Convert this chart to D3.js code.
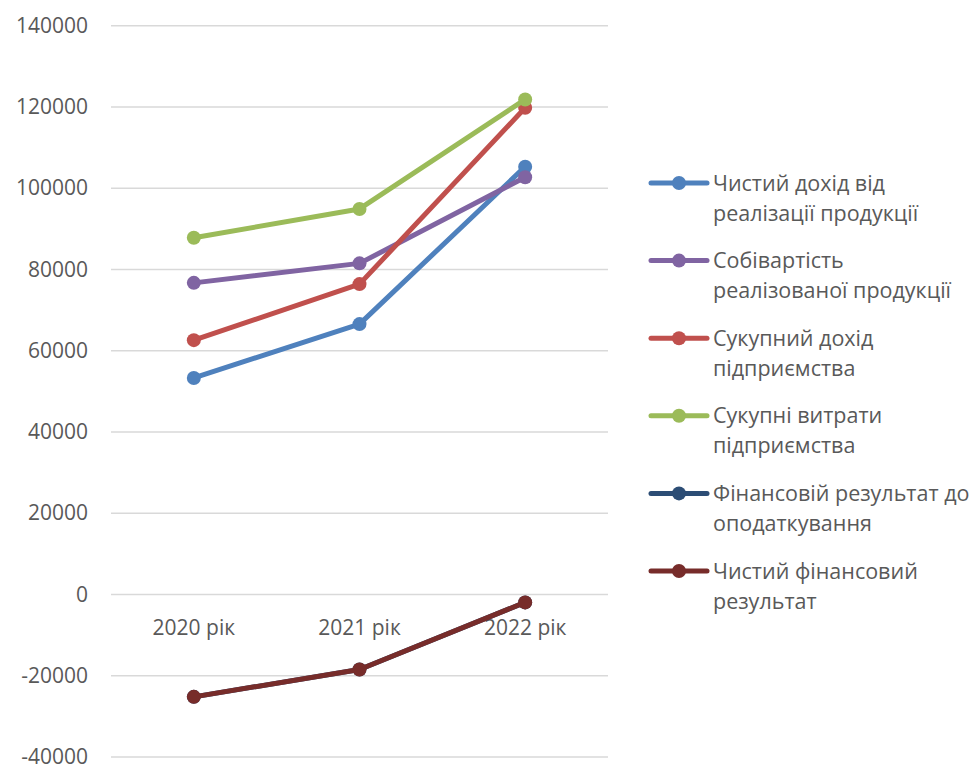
<!DOCTYPE html>
<html>
<head>
<meta charset="utf-8">
<script src="https://cdn.jsdelivr.net/npm/d3@7"></script>
<style>
  html, body { margin: 0; padding: 0; background: #fff; }
  svg { display: block; font-family: "Open Sans", "Noto Sans", sans-serif; }
</style>
</head>
<body>
<svg id="chart" width="976" height="765"></svg>
<script>
// Years on the category axis
const categories = ["2020 рік", "2021 рік", "2022 рік"];

// Series names (legend) and colours
const seriesNames = [
  ["Чистий дохід від", "реалізації продукції"],
  ["Собівартість", "реалізованої продукції"],
  ["Сукупний дохід", "підприємства"],
  ["Сукупні витрати", "підприємства"],
  ["Фінансовій результат до", "оподаткування"],
  ["Чистий фінансовий", "результат"]
];
const seriesColors = ["#4F81BD", "#8064A2", "#C0504D", "#9BBB59", "#2C4D75", "#772C2A"];

// Values per series, thousand UAH
const netRevenue       = [53300, 66550, 105300];
const costOfSales      = [76700, 81500, 102700];
const totalIncome      = [62600, 76400, 119800];
const totalExpenses    = [87800, 94900, 121850];
const resultBeforeTax  = [-25200, -18450, -1950];
const netResult        = [-25200, -18450, -1950];

const seriesValues = [netRevenue, costOfSales, totalIncome, totalExpenses, resultBeforeTax, netResult];

// Value axis ticks
const yTicks = [-40000, -20000, 0, 20000, 40000, 60000, 80000, 100000, 120000, 140000];

const svg = d3.select("#chart");
const plot = { left: 111, right: 608, top: 25.7, bottom: 757 };

const x = d3.scaleBand().domain(categories).range([plot.left, plot.right]);
const y = d3.scaleLinear().domain([-40000, 140000]).range([plot.bottom, plot.top]);

const textColor = "#595959";

// Horizontal gridlines
svg.append("g")
  .selectAll("line")
  .data(yTicks)
  .join("line")
  .attr("x1", plot.left).attr("x2", plot.right)
  .attr("y1", d => y(d)).attr("y2", d => y(d))
  .attr("stroke", "#D9D9D9").attr("stroke-width", 1.5);

// Value axis labels (plain hyphen for negatives)
const yAxis = d3.axisLeft(y).tickValues(yTicks).tickSize(0).tickPadding(0).tickFormat(d => String(d));
svg.append("g")
  .attr("transform", `translate(88,0)`)
  .call(yAxis)
  .call(g => g.select(".domain").remove())
  .call(g => g.selectAll("text")
    .attr("fill", textColor)
    .style("font-size", "21px")
    .style("font-family", "'Open Sans', sans-serif")
    .attr("dy", "0.32em"));

// Category labels sit just below the zero line
const xAxis = d3.axisBottom(x).tickSize(0).tickPadding(0);
svg.append("g")
  .attr("transform", `translate(0,${y(0)})`)
  .call(xAxis)
  .call(g => g.select(".domain").remove())
  .call(g => g.selectAll("text")
    .attr("fill", textColor)
    .style("font-size", "21px")
    .style("font-family", "'Open Sans', sans-serif")
    .attr("y", 41)
    .attr("dy", 0));

// Lines and markers
const line = d3.line()
  .x((d, i) => x(categories[i]) + x.bandwidth() / 2)
  .y(d => y(d));

seriesValues.forEach((vals, si) => {
  const g = svg.append("g");
  g.append("path")
    .datum(vals)
    .attr("d", line)
    .attr("fill", "none")
    .attr("stroke", seriesColors[si])
    .attr("stroke-width", 5)
    .attr("stroke-linejoin", "round")
    .attr("stroke-linecap", "round");
  g.selectAll("circle")
    .data(vals)
    .join("circle")
    .attr("cx", (d, i) => x(categories[i]) + x.bandwidth() / 2)
    .attr("cy", d => y(d))
    .attr("r", 7)
    .attr("fill", seriesColors[si]);
});

// Legend
const legend = svg.append("g");
const legendTop = 183, legendStep = 77.6, legendLine = 30;
seriesNames.forEach((lines, i) => {
  const cy = legendTop + i * legendStep;
  const item = legend.append("g");
  item.append("line")
    .attr("x1", 651).attr("x2", 707)
    .attr("y1", cy).attr("y2", cy)
    .attr("stroke", seriesColors[i])
    .attr("stroke-width", 5)
    .attr("stroke-linecap", "round");
  item.append("circle")
    .attr("cx", 679).attr("cy", cy).attr("r", 7)
    .attr("fill", seriesColors[i]);
  lines.forEach((t, k) => {
    item.append("text")
      .attr("x", 713)
      .attr("y", cy + k * legendLine)
      .attr("dy", "0.35em")
      .attr("fill", textColor)
      .style("font-size", "21.5px")
      .text(t);
  });
});
</script>
</body>
</html>
